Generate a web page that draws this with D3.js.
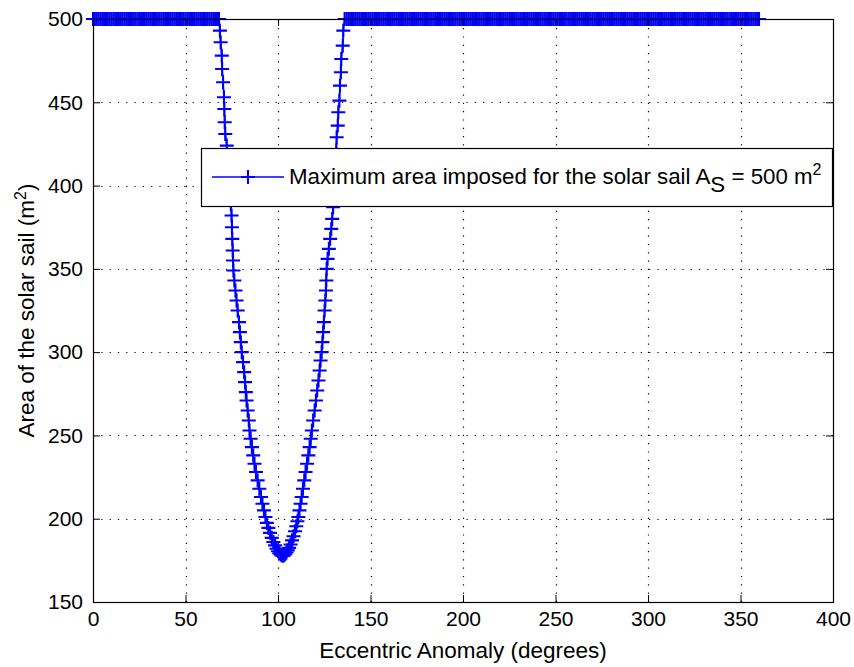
<!DOCTYPE html>
<html>
<head>
<meta charset="utf-8">
<script src="https://cdn.jsdelivr.net/npm/d3@7"></script>
<style>
  html, body { margin: 0; padding: 0; background: #fff; }
  svg { display: block; font-family: "Liberation Sans", Arial, Helvetica, sans-serif; }
</style>
</head>
<body>
<svg id="chart" width="854" height="667"></svg>
<script>
// ---------------- data ----------------
const xTicks = [0, 50, 100, 150, 200, 250, 300, 350, 400];
const yTicks = [150, 200, 250, 300, 350, 400, 450, 500];
const maxArea = 500; // imposed cap (m^2)

// Eccentric anomaly samples where the area sits at the imposed cap
const capLeftE = [0,1,2,3,4,5,6,7,8,9,10,11,12,13,14,15,16,17,18,19,
  20,21,22,23,24,25,26,27,28,29,30,31,32,33,34,35,36,37,38,39,
  40,41,42,43,44,45,46,47,48,49,50,51,52,53,54,55,56,57,58,59,
  60,61,62,63,64,65,66,67,68];
const capRightE = [137,138,139,140,141,142,143,144,145,146,147,148,149,150,151,152,153,154,155,156,
  157,158,159,160,161,162,163,164,165,166,167,168,169,170,171,172,173,174,175,176,
  177,178,179,180,181,182,183,184,185,186,187,188,189,190,191,192,193,194,195,196,
  197,198,199,200,201,202,203,204,205,206,207,208,209,210,211,212,213,214,215,216,
  217,218,219,220,221,222,223,224,225,226,227,228,229,230,231,232,233,234,235,236,
  237,238,239,240,241,242,243,244,245,246,247,248,249,250,251,252,253,254,255,256,
  257,258,259,260,261,262,263,264,265,266,267,268,269,270,271,272,273,274,275,276,
  277,278,279,280,281,282,283,284,285,286,287,288,289,290,291,292,293,294,295,296,
  297,298,299,300,301,302,303,304,305,306,307,308,309,310,311,312,313,314,315,316,
  317,318,319,320,321,322,323,324,325,326,327,328,329,330,331,332,333,334,335,336,
  337,338,339,340,341,342,343,344,345,346,347,348,349,350,351,352,353,354,355,356,
  357,358,359,360];

// Dip below the cap: [eccentric anomaly (deg), area (m^2)]
const dipPoints = [
  [68.1,500],[68.6,493],[69.0,486],[69.6,478],[69.8,470],[70.3,462],[70.8,453],[71.0,446],
  [71.2,438],[71.5,431],[72.3,424],[72.8,417],[73.3,410],[73.7,403],[74.1,396],[74.5,389],
  [74.9,382],[75.1,375],[75.3,368],[75.5,361],[75.7,355],[75.9,349],[76.4,343],[77.0,337],
  [77.6,331],[78.2,325],[78.9,318],[79.4,312],[79.9,306],[80.4,300],[81.1,294],[81.7,288],
  [82.2,282],[82.6,276],[83.0,271],[83.6,265],[84.2,259],[84.6,253],[85.2,248],[85.9,243],
  [86.6,238],[87.3,233],[88.1,228],[89.0,223],[89.9,218],[90.8,213],[91.6,209],[92.4,205],
  [93.2,201],[94.0,197.5],[94.8,194.5],[95.7,191.5],[96.6,188.5],[97.5,186],[98.4,184],
  [99.2,182],[100.0,180.5],[100.7,179.3],[101.4,178.5],[102.0,178],[102.6,177.8],
  [103.2,178],[103.9,178.7],[104.6,179.7],[105.3,181],[106.0,182.5],[106.8,184.5],
  [107.6,187],[108.4,189.5],[109.2,192.5],[109.9,195.5],[110.5,198.5],[111.0,201],
  [111.6,205],[112.2,209],[112.8,213],[113.5,218],[114.2,223],[114.9,228],[115.7,233],
  [116.4,238],[117.1,243],[117.7,248],[118.3,253],[119.0,259],[119.8,265],[120.5,271],
  [121.2,277],[121.9,283],[122.5,289],[123.0,295],[123.6,300],[124.0,306],[124.4,312],
  [124.8,318],[125.2,325],[125.6,331],[125.9,337],[126.1,343],[126.3,350],[126.8,356],
  [127.5,362],[128.2,368],[128.8,374],[129.3,380],[129.8,387],[130.2,393],[130.6,400],
  [130.9,407],[131.2,414],[131.5,421],[131.7,429],[132.3,436],[132.6,444],[133.2,451],
  [133.5,460],[134.0,468],[134.2,476],[135.0,484],[135.3,493],[136.0,500]
];

const xLabel = "Eccentric Anomaly (degrees)";
const legendMain = "Maximum area imposed for the solar sail A";

// -------------- assemble series --------------
const series = [
  ...capLeftE.map(e => [e, maxArea]),
  ...dipPoints,
  ...capRightE.map(e => [e, maxArea])
];

// -------------- layout --------------
const W = 854, H = 667;
const plot = { left: 93, right: 833, top: 19, bottom: 602 };
const blue = "#0000ff";
const fontTick = 21, fontLabel = 22.5, fontLegend = 22.3;

const svg = d3.select("#chart");
svg.append("rect").attr("width", W).attr("height", H).attr("fill", "#fff");

const x = d3.scaleLinear().domain([0, 400]).range([plot.left, plot.right]);
const y = d3.scaleLinear().domain([150, 500]).range([plot.bottom, plot.top]);

// grid (dotted)
const grid = svg.append("g")
  .attr("stroke", "#000").attr("stroke-width", 1.2).attr("stroke-dasharray", "1.2,7.1");
grid.selectAll("line.gx").data(xTicks.filter(t => t > 0 && t < 400)).join("line")
  .attr("x1", d => Math.round(x(d)) + 0.5).attr("x2", d => Math.round(x(d)) + 0.5)
  .attr("y1", plot.bottom).attr("y2", plot.top);
grid.selectAll("line.gy").data(yTicks.filter(t => t > 150 && t < 500)).join("line")
  .attr("y1", d => Math.round(y(d)) + 0.5).attr("y2", d => Math.round(y(d)) + 0.5)
  .attr("x1", plot.left).attr("x2", plot.right);

// data line
const line = d3.line().x(d => x(d[0])).y(d => y(d[1]));
svg.append("path").datum(series)
  .attr("fill", "none").attr("stroke", blue).attr("stroke-width", 1.6)
  .attr("d", line);

// '+' markers
const ms = 7;
const plus = `M${-ms},0H${ms}M0,${-ms}V${ms}`;
svg.append("g").selectAll("path").data(series).join("path")
  .attr("transform", d => `translate(${x(d[0])},${y(d[1])})`)
  .attr("d", plus)
  .attr("fill", "none").attr("stroke", blue).attr("stroke-width", 2.1);

// axes (ticks inward)
const axB = d3.axisBottom(x).tickValues(xTicks).tickSizeInner(-7).tickSizeOuter(0).tickPadding(9);
const axL = d3.axisLeft(y).tickValues(yTicks).tickSizeInner(-7).tickSizeOuter(0).tickPadding(10);
const axT = d3.axisTop(x).tickValues(xTicks).tickSizeInner(-7).tickSizeOuter(0).tickFormat("");
const axR = d3.axisRight(y).tickValues(yTicks).tickSizeInner(-7).tickSizeOuter(0).tickFormat("");

function styleAxis(g) {
  g.select(".domain").remove();
  g.selectAll("line").attr("stroke", "#000");
  g.selectAll("text").attr("fill", "#000").attr("font-size", fontTick)
    .attr("font-family", "'Liberation Sans', Arial, sans-serif");
}
svg.append("g").attr("transform", `translate(0,${plot.bottom})`).call(axB).call(styleAxis);
svg.append("g").attr("transform", `translate(${plot.left},0)`).call(axL).call(styleAxis);
svg.append("g").attr("transform", `translate(0,${plot.top})`).call(axT).call(styleAxis);
svg.append("g").attr("transform", `translate(${plot.right},0)`).call(axR).call(styleAxis);

// box
svg.append("rect")
  .attr("x", plot.left + 0.5).attr("y", plot.top + 0.5)
  .attr("width", plot.right - plot.left).attr("height", plot.bottom - plot.top)
  .attr("fill", "none").attr("stroke", "#000").attr("stroke-width", 1.2);

// axis labels
svg.append("text")
  .attr("x", (plot.left + plot.right) / 2).attr("y", 658)
  .attr("text-anchor", "middle").attr("font-size", fontLabel).attr("fill", "#000")
  .text(xLabel);

const yl = svg.append("text")
  .attr("transform", `translate(34,${(plot.top + plot.bottom) / 2}) rotate(-90)`)
  .attr("text-anchor", "middle").attr("font-size", fontLabel).attr("fill", "#000");
yl.append("tspan").text("Area of the solar sail (m");
yl.append("tspan").attr("dy", -8).attr("font-size", 16).text("2");
yl.append("tspan").attr("dy", 8).text(")");

// legend
const lg = svg.append("g");
lg.append("rect").attr("x", 201.5).attr("y", 148.5).attr("width", 631).attr("height", 58)
  .attr("fill", "#fff").attr("stroke", "#000").attr("stroke-width", 1.2);
const ly = 177;
lg.append("line").attr("x1", 212).attr("x2", 284).attr("y1", ly).attr("y2", ly)
  .attr("stroke", blue).attr("stroke-width", 1.6);
lg.append("path").attr("transform", `translate(248,${ly})`).attr("d", plus)
  .attr("fill", "none").attr("stroke", blue).attr("stroke-width", 2.1);
const lt = lg.append("text").attr("x", 289).attr("y", ly + 7)
  .attr("font-size", fontLegend).attr("fill", "#000");
lt.append("tspan").text(legendMain);
lt.append("tspan").attr("dy", 8).text("S");
lt.append("tspan").attr("dy", -8).text(" = 500 m");
lt.append("tspan").attr("dy", -9).attr("font-size", 16).text("2");
</script>
</body>
</html>
